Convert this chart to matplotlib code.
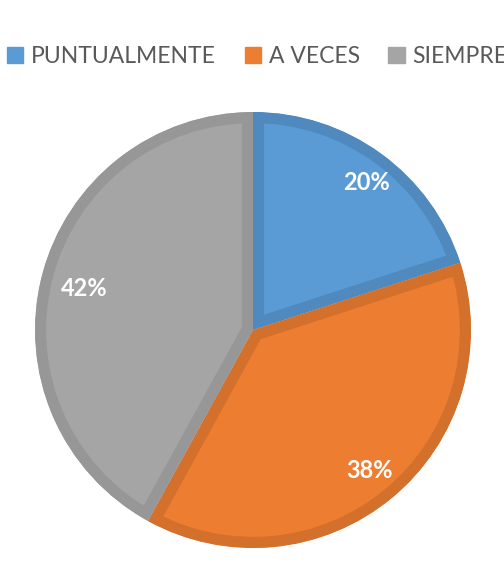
import matplotlib.pyplot as plt
from matplotlib.patches import Patch, Wedge

# data
categories = ['PUNTUALMENTE', 'A VECES', 'SIEMPRE']
values = [20, 38, 42]
labels = ['20%', '38%', '42%']

colors = ['#5B9BD5', '#ED7D31', '#A5A5A5']
borders = ['#4F89BD', '#D2702C', '#979797']

plt.rcParams['font.family'] = ['Lato', 'DejaVu Sans']

fig = plt.figure(figsize=(5.04, 5.76), dpi=100)
ax = fig.add_axes([0, 0, 1, 1])

# pie in pixel coordinates
wedges, texts = ax.pie(values, colors=colors, startangle=90, counterclock=False,
                       center=(253, 246), radius=218, frame=True)
ax.set_xlim(0, 504)
ax.set_ylim(0, 576)
ax.set_aspect('equal')
ax.axis('off')

# inner darker border, clipped to a copy of each wedge
for w, b in zip(wedges, borders):
    clip = Wedge(w.center, w.r, w.theta1, w.theta2, transform=ax.transData)
    w.set_edgecolor(b)
    w.set_linewidth(16)
    w.set_clip_on(True)
    w.set_clip_path(clip)

# percentage labels
label_pos = [(366, 393), (370, 106), (84, 288)]
for (x, y), t in zip(label_pos, labels):
    ax.text(x, y, t, color='white', fontsize=17, fontweight='bold',
            ha='center', va='center')

# legend runs off the right edge, as in the reference
handles = [Patch(facecolor=c, edgecolor=c) for c in colors]
fig.legend(handles, categories, loc='upper left', bbox_to_anchor=(0.014, 0.92),
           ncol=3, frameon=False, fontsize=16.5, labelcolor='#595959',
           handlelength=0.7, handleheight=0.7, handletextpad=0.35,
           columnspacing=1.25, borderaxespad=0, borderpad=0)

fig.savefig('out.png', dpi=100)
